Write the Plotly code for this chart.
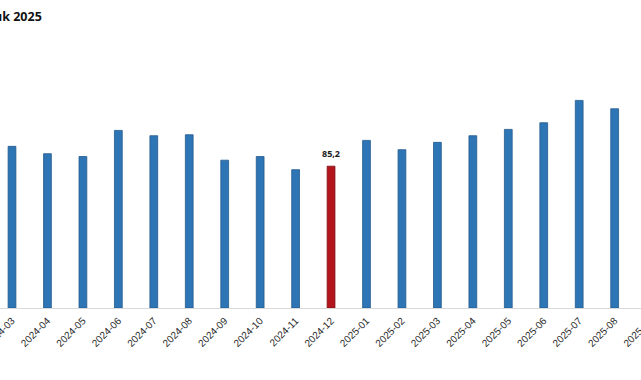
import plotly.graph_objects as go

categories = ["2024-03", "2024-04", "2024-05", "2024-06", "2024-07", "2024-08",
              "2024-09", "2024-10", "2024-11", "2024-12", "2025-01", "2025-02",
              "2025-03", "2025-04", "2025-05", "2025-06", "2025-07", "2025-08",
              "2025-09"]
values = [97.1, 92.7, 91.0, 106.7, 103.5, 104.1,
          88.8, 91.0, 83.1, 85.2, 100.7, 95.1,
          99.5, 103.5, 107.3, 111.3, 124.7, 119.7,
          None]
highlight = "2024-12"
title_text = "uk 2025"

blue = "#2E75B6"
red = "#B2151C"
colors = [red if c == highlight else blue for c in categories]
outlines = ["#7f0c10" if c == highlight else "#235a8c" for c in categories]

# figure is slightly wider than the 641px window so the last label is cut like the reference
W, H = 665, 380
MT, MB = 40, 72
plot_h = H - MT - MB
step = 35.45
x0 = -12 / step
x1 = x0 + W / step

fig = go.Figure()
fig.add_trace(go.Bar(
    x=categories, y=values,
    marker=dict(color=colors, line=dict(color=outlines, width=0.8)),
    width=0.22,
    hoverinfo="skip",
))

hi = categories.index(highlight)
fig.add_annotation(
    x=highlight, y=values[hi], xref="x", yref="y",
    text="<b>%s</b>" % f"{values[hi]:.1f}".replace(".", ","),
    showarrow=False, yanchor="bottom", yshift=4,
    font=dict(family="Open Sans, Arial, sans-serif", size=9, color="#1a1a1a"),
)

fig.add_annotation(
    x=-8 / W, y=(H - MB - 16.5) / plot_h, xref="paper", yref="paper",
    text="<b>%s</b>" % title_text, showarrow=False,
    xanchor="left", yanchor="middle",
    font=dict(family="Open Sans, Arial, sans-serif", size=12.5, color="#111111"),
)

fig.update_layout(
    width=W, height=H,
    margin=dict(l=0, r=0, t=MT, b=MB, autoexpand=False),
    paper_bgcolor="white", plot_bgcolor="white",
    showlegend=False,
    xaxis=dict(
        type="category",
        range=[x0, x1],
        automargin=False,
        tickangle=-45,
        tickfont=dict(family="Arial, Liberation Sans, sans-serif", size=10, color="#2a2a2a"),
        showline=True, linecolor="#d9d9d9", linewidth=1,
        showgrid=False, ticks="", ticklabelstandoff=2,
    ),
    yaxis=dict(
        range=[0, 161], visible=False, showgrid=False, zeroline=False,
        automargin=False,
    ),
)

fig.write_html(
    "out.html",
    config={"displayModeBar": False, "staticPlot": True},
    post_script="document.body.style.margin='0';document.body.style.overflow='hidden';",
)
